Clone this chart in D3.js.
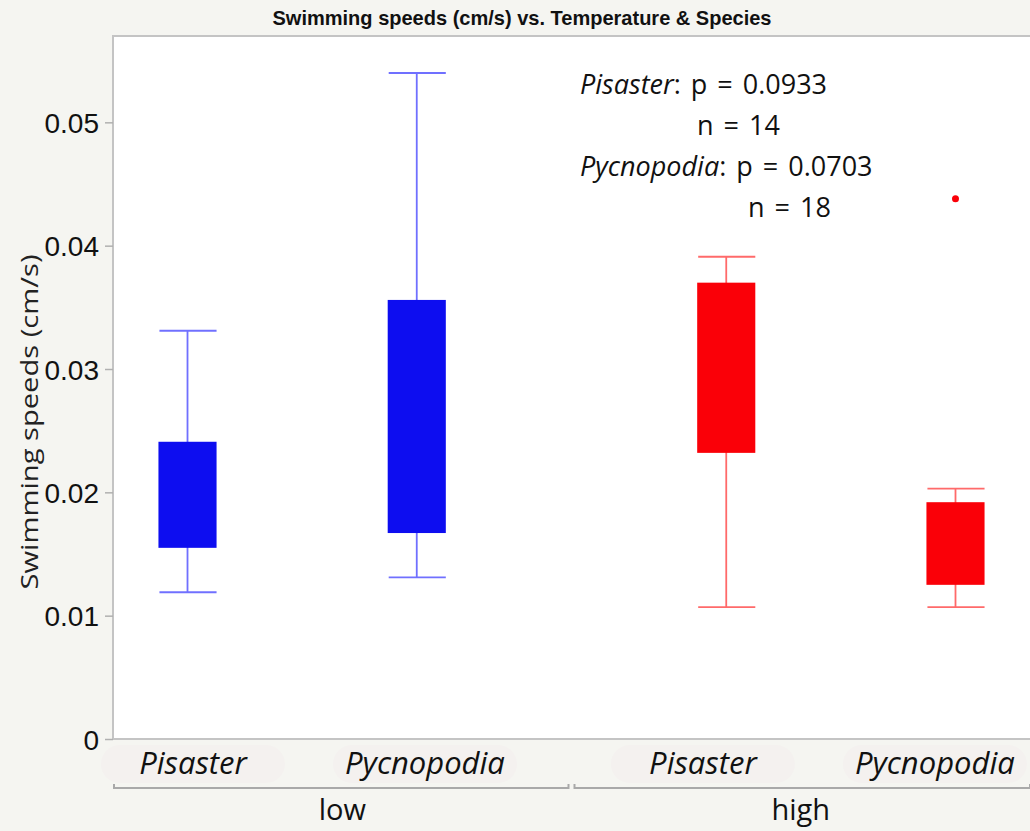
<!DOCTYPE html>
<html>
<head>
<meta charset="utf-8">
<script src="https://cdn.jsdelivr.net/npm/d3@7"></script>
<style>
  body { margin: 0; background: #f5f5f1; }
  svg { display: block; }
</style>
</head>
<body>
<div id="chart"></div>
<script>
// data
var groups = ["low", "high"];
var species = ["Pisaster", "Pycnopodia"];
var boxGroup = ["low", "low", "high", "high"];
var boxSpecies = ["Pisaster", "Pycnopodia", "Pisaster", "Pycnopodia"];
var boxMin = [0.0119, 0.0131, 0.0107, 0.0107];
var boxQ1 = [0.0155, 0.0167, 0.0232, 0.0125];
var boxQ3 = [0.0241, 0.0356, 0.0370, 0.0192];
var boxMax = [0.0331, 0.0540, 0.0391, 0.0203];
var outlierGroup = ["high"];
var outlierSpecies = ["Pycnopodia"];
var outlierValue = [0.0438];
var yTicks = [0, 0.01, 0.02, 0.03, 0.04, 0.05];
var statLines = [
  {sp: "Pisaster", txt: ": p = 0.0933"},
  {sp: "", txt: "n = 14"},
  {sp: "Pycnopodia", txt: ": p = 0.0703"},
  {sp: "", txt: "n = 18"}
];

var W = 1030, H = 831;
var plot = {left: 113, right: 1030, top: 36, bottom: 739};

var svg = d3.select("#chart").append("svg")
  .attr("width", W)
  .attr("height", H);

svg.append("rect").attr("width", W).attr("height", H).attr("fill", "#f5f5f1");

// title
svg.append("text")
  .attr("x", 522)
  .attr("y", 25)
  .attr("text-anchor", "middle")
  .attr("textLength", 499)
  .attr("lengthAdjust", "spacingAndGlyphs")
  .style("font-family", "'Liberation Sans', Arial, sans-serif")
  .style("font-weight", "bold")
  .style("font-size", "21px")
  .attr("fill", "#111")
  .text("Swimming speeds (cm/s) vs. Temperature & Species");

// plot frame
svg.append("rect")
  .attr("x", plot.left)
  .attr("y", plot.top)
  .attr("width", plot.right - plot.left + 2)
  .attr("height", plot.bottom - plot.top)
  .attr("fill", "#fff")
  .attr("stroke", "#c4c4c4")
  .attr("stroke-width", 2);

// scales
var y = d3.scaleLinear()
  .domain([0, 0.057])
  .range([plot.bottom, plot.top]);

var xGroup = d3.scaleBand()
  .domain(groups)
  .range([plot.left, plot.right]);

// boxes sit to the outside of each group
function inner(g, align, po) {
  return d3.scaleBand()
    .domain(species)
    .range([0, xGroup.bandwidth()])
    .paddingInner(0.35)
    .paddingOuter(po)
    .align(align);
}
var boxAlign = {low: 0, high: 1};
var labelAlign = {low: 0.06, high: 0.74};

function bx(g, s) {
  var sc = inner(g, boxAlign[g], 0.175);
  return xGroup(g) + sc(s) + sc.bandwidth() / 2;
}
function lx(g, s) {
  var sc = inner(g, labelAlign[g], 0.163);
  return xGroup(g) + sc(s) + sc.bandwidth() / 2;
}
var boxW = inner("low", 0, 0.175).bandwidth() * 0.39;

// y axis
var yAxis = svg.append("g")
  .attr("transform", "translate(" + plot.left + ",0)")
  .call(d3.axisLeft(y).tickValues(yTicks).tickFormat(function(d) { return d === 0 ? "0" : d3.format(".2f")(d); }).tickSize(8).tickPadding(6));
yAxis.select(".domain").remove();
yAxis.selectAll("line").attr("stroke", "#b0b0b0").attr("stroke-width", 1.5);
yAxis.selectAll("text")
  .style("font-family", "'Liberation Sans', Arial, sans-serif")
  .style("font-size", "28px")
  .attr("fill", "#111")
  .attr("dy", "0.36em");

svg.append("text")
  .attr("transform", "translate(38," + 422 + ") rotate(-90)")
  .attr("text-anchor", "middle")
  .attr("textLength", 335)
  .attr("lengthAdjust", "spacingAndGlyphs")
  .style("font-family", "'Open Sans', sans-serif")
  .style("font-size", "24px")
  .attr("fill", "#222")
  .text("Swimming speeds (cm/s)");

// boxes
var boxes = boxMin.map(function(v, i) {
  return {g: boxGroup[i], s: boxSpecies[i], min: v, q1: boxQ1[i], q3: boxQ3[i], max: boxMax[i]};
});
var colors = {low: {fill: "#0d0df0", line: "#7070ff"}, high: {fill: "#fa0008", line: "#ff6a6a"}};

var bg = svg.selectAll(".box").data(boxes).enter().append("g").attr("class", "box");

bg.append("line")
  .attr("x1", function(d) { return bx(d.g, d.s); })
  .attr("x2", function(d) { return bx(d.g, d.s); })
  .attr("y1", function(d) { return y(d.max); })
  .attr("y2", function(d) { return y(d.min); })
  .attr("stroke", function(d) { return colors[d.g].line; })
  .attr("stroke-width", 1.8);

["min", "max"].forEach(function(k) {
  bg.append("line")
    .attr("x1", function(d) { return bx(d.g, d.s) - boxW / 2 + 1; })
    .attr("x2", function(d) { return bx(d.g, d.s) + boxW / 2; })
    .attr("y1", function(d) { return y(d[k]); })
    .attr("y2", function(d) { return y(d[k]); })
    .attr("stroke", function(d) { return colors[d.g].line; })
    .attr("stroke-width", 1.8);
});

bg.append("rect")
  .attr("x", function(d) { return bx(d.g, d.s) - boxW / 2; })
  .attr("y", function(d) { return y(d.q3); })
  .attr("width", boxW)
  .attr("height", function(d) { return y(d.q1) - y(d.q3); })
  .attr("fill", function(d) { return colors[d.g].fill; });

// outliers
svg.selectAll(".outlier").data(outlierValue).enter().append("circle")
  .attr("class", "outlier")
  .attr("cx", function(d, i) { return bx(outlierGroup[i], outlierSpecies[i]); })
  .attr("cy", function(d) { return y(d); })
  .attr("r", 3.5)
  .attr("fill", function(d, i) { return colors[outlierGroup[i]].fill; });

// stats annotation
var statX = [580, 697, 580, 748];
statLines.forEach(function(l, i) {
  var t = svg.append("text")
    .attr("x", statX[i])
    .attr("y", 94 + i * 41)
    .style("font-family", "'Open Sans', sans-serif")
    .style("font-size", "27px")
    .style("word-spacing", "3px")
    .attr("fill", "#111");
  if (l.sp) t.append("tspan").style("font-style", "italic").text(l.sp);
  t.append("tspan").text(l.txt);
});

// x axis: species labels with faint pills, then group labels
groups.forEach(function(g) {
  species.forEach(function(s) {
    var cx = lx(g, s);
    svg.append("rect")
      .attr("x", cx - 92)
      .attr("y", 745)
      .attr("width", 184)
      .attr("height", 38)
      .attr("rx", 19)
      .attr("fill", "#f4f1ef");
    svg.append("text")
      .attr("x", cx)
      .attr("y", 774)
      .attr("text-anchor", "middle")
      .style("font-family", "'Open Sans', sans-serif")
      .style("font-style", "italic")
      .style("font-size", "31px")
      .attr("fill", "#111")
      .text(s);
  });
  var x0 = xGroup(g) + (g === "low" ? 1 : 3);
  var x1 = xGroup(g) + xGroup.bandwidth() - (g === "low" ? 3 : 0);
  svg.append("path")
    .attr("d", "M" + x0 + ",784 L" + x0 + ",788 L" + x1 + ",788 L" + x1 + ",784")
    .attr("fill", "none")
    .attr("stroke", "#a9a9a9")
    .attr("stroke-width", 2);
  svg.append("text")
    .attr("x", xGroup(g) + xGroup.bandwidth() / 2)
    .attr("y", 820)
    .attr("text-anchor", "middle")
    .style("font-family", "'Open Sans', sans-serif")
    .style("font-size", "29px")
    .attr("fill", "#111")
    .text(g);
});
</script>
</body>
</html>
